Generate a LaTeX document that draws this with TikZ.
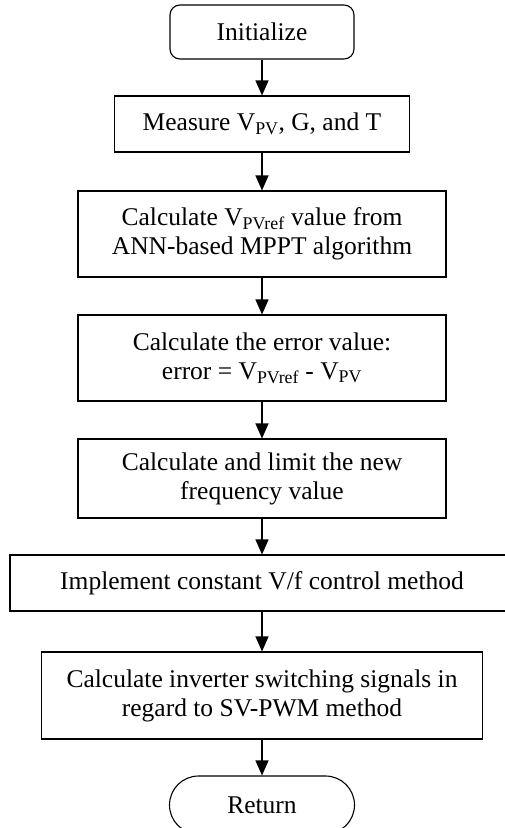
\documentclass[tikz,border=0pt]{standalone}
\usepackage{fontspec}
\setmainfont{Liberation Serif}
\usepackage{tikz}
\usetikzlibrary{arrows.meta}
\tikzset{
  stepbox/.style={draw,line width=1.1pt,inner sep=0pt,align=center,
    font=\fontsize{25.5}{29}\selectfont},
  termbox/.style={stepbox,rounded corners=#1},
  flow/.style={line width=1.1pt,-{Triangle[length=15pt,width=13pt]}}
}

\begin{document}
\begin{tikzpicture}[x=1pt,y=-1pt]
\useasboundingbox (0,0) rectangle (505,828);
% boxes
\node[termbox=10pt,minimum width=184pt,minimum height=54pt] (init) at (262,32) {Initialize};
\node[stepbox,minimum width=295pt,minimum height=56pt] (meas) at (262,124) {Measure V\textsubscript{PV}, G, and T};
\node[stepbox,minimum width=368pt,minimum height=86pt] (vref) at (262,234) {Calculate V\textsubscript{PVref} value from\\ANN-based MPPT algorithm};
\node[stepbox,minimum width=368pt,minimum height=86pt] (err) at (262,358) {Calculate the error value:\\error = V\textsubscript{PVref} - V\textsubscript{PV}};
\node[stepbox,minimum width=368pt,minimum height=79pt] (freq) at (262,478.5) {Calculate and limit the new\\frequency value};
\node[stepbox,minimum width=504pt,minimum height=56pt] (vf) at (262,583) {Implement constant V/f control method};
\node[stepbox,minimum width=441pt,minimum height=87pt] (pwm) at (262,695.5) {Calculate inverter switching signals in\\regard to SV-PWM method};
\node[termbox=29pt,minimum width=185pt,minimum height=58pt] (ret) at (262,805) {Return};
% arrows
\draw[flow] (init) -- (meas);
\draw[flow] (meas) -- (vref);
\draw[flow] (vref) -- (err);
\draw[flow] (err) -- (freq);
\draw[flow] (freq) -- (vf);
\draw[flow] (vf) -- (pwm);
\draw[flow] (pwm) -- (ret);
\end{tikzpicture}
\end{document}
